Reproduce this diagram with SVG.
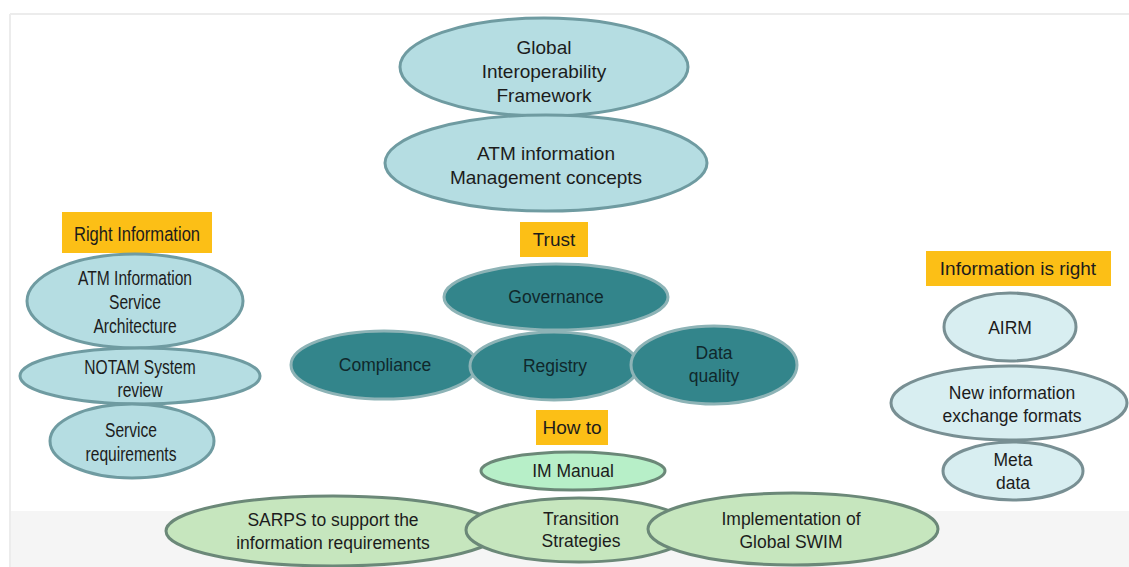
<svg xmlns="http://www.w3.org/2000/svg" width="1129" height="567" viewBox="0 0 1129 567">
<style>
  text { font-family: "Liberation Sans", Arial, sans-serif; fill: #1c1c1c; text-anchor: middle; }
  .n { font-size: 19.5px; }
  .r { font-size: 17.5px; }
  .t { font-size: 19px; }
  .lb { fill: #b5dde2; stroke: #6f9ba1; stroke-width: 3; }
  .lb2 { fill: #d8eef1; stroke: #788f93; stroke-width: 3; }
  .dk { fill: #33858b; stroke: #8db3b6; stroke-width: 3; }
  .dkt { fill: #10282b; }
  .gr { fill: #c6e6be; stroke: #6b8878; stroke-width: 3; }
  .mint { fill: #b7efc8; stroke: #6b8878; stroke-width: 3; }
  .tag { fill: #fcbf16; }
</style>
<rect x="0" y="0" width="1129" height="567" fill="#ffffff"/>
<rect x="11" y="511" width="1118" height="56" fill="#f5f5f5"/>
<line x1="10" y1="14" x2="1129" y2="14" stroke="#ececec" stroke-width="2"/>
<line x1="10" y1="14" x2="10" y2="567" stroke="#ececec" stroke-width="2"/>

<g id="connectors"></g>

<g id="global-framework">
  <ellipse class="lb" cx="544" cy="67" rx="144" ry="49"/>
  <text class="t" x="544" y="54">Global</text>
  <text class="t" x="544" y="78">Interoperability</text>
  <text class="t" x="544" y="102">Framework</text>
</g>
<g id="atm-im-concepts">
  <ellipse class="lb" cx="546" cy="163" rx="161" ry="48"/>
  <text class="t" x="546" y="160">ATM information</text>
  <text class="t" x="546" y="184">Management concepts</text>
</g>

<g id="trust">
  <rect class="tag" x="520" y="222" width="68" height="35"/>
  <text class="t" x="554" y="246">Trust</text>
</g>
<g id="governance">
  <ellipse class="dk" cx="556" cy="297" rx="112" ry="33"/>
  <text class="r dkt" x="556" y="303">Governance</text>
</g>
<g id="compliance">
  <ellipse class="dk" cx="384" cy="365" rx="93" ry="34"/>
  <text class="r dkt" x="385" y="371">Compliance</text>
</g>
<g id="registry">
  <ellipse class="dk" cx="554" cy="366" rx="84" ry="34"/>
  <text class="r dkt" x="555" y="372">Registry</text>
</g>
<g id="data-quality">
  <ellipse class="dk" cx="714" cy="365" rx="83" ry="39"/>
  <text class="r dkt" x="714" y="359">Data</text>
  <text class="r dkt" x="714" y="382">quality</text>
</g>

<g id="how-to">
  <rect class="tag" x="536" y="410" width="72" height="35"/>
  <text class="t" x="572" y="434">How to</text>
</g>
<g id="im-manual">
  <ellipse class="mint" cx="573" cy="471" rx="92" ry="19"/>
  <text class="r" x="573" y="477">IM Manual</text>
</g>
<g id="sarps">
  <ellipse class="gr" cx="333" cy="531" rx="167" ry="35"/>
  <text class="r" x="333" y="526">SARPS to support the</text>
  <text class="r" x="333" y="549">information requirements</text>
</g>
<g id="transition">
  <ellipse class="gr" cx="579" cy="530" rx="113" ry="32"/>
  <text class="r" x="581" y="525">Transition</text>
  <text class="r" x="581" y="547">Strategies</text>
</g>
<g id="implementation">
  <ellipse class="gr" cx="793" cy="529" rx="145" ry="36"/>
  <text class="r" x="791" y="525">Implementation of</text>
  <text class="r" x="791" y="548">Global SWIM</text>
</g>

<g id="right-information">
  <rect class="tag" x="62" y="212" width="150" height="41"/>
  <text class="n" transform="translate(137 241) scale(0.85 1)">Right Information</text>
</g>
<g id="atm-info-service-arch">
  <ellipse class="lb" cx="135" cy="301" rx="108" ry="47"/>
  <text class="n" transform="translate(135 285) scale(0.8 1)">ATM Information</text>
  <text class="n" transform="translate(135 309) scale(0.8 1)">Service</text>
  <text class="n" transform="translate(135 333) scale(0.8 1)">Architecture</text>
</g>
<g id="notam">
  <ellipse class="lb" cx="140" cy="376" rx="120" ry="28"/>
  <text class="n" transform="translate(140 374) scale(0.8 1)">NOTAM System</text>
  <text class="n" transform="translate(140 397) scale(0.8 1)">review</text>
</g>
<g id="service-requirements">
  <ellipse class="lb" cx="132" cy="441" rx="82" ry="37"/>
  <text class="n" transform="translate(131 437) scale(0.8 1)">Service</text>
  <text class="n" transform="translate(131 461) scale(0.8 1)">requirements</text>
</g>

<g id="information-is-right">
  <rect class="tag" x="926" y="251" width="185" height="35"/>
  <text class="t" x="1018" y="275">Information is right</text>
</g>
<g id="airm">
  <ellipse class="lb2" cx="1010" cy="327" rx="66" ry="34"/>
  <text class="r" x="1010" y="334">AIRM</text>
</g>
<g id="new-info-formats">
  <ellipse class="lb2" cx="1009" cy="403" rx="118" ry="37"/>
  <text class="r" x="1012" y="399">New information</text>
  <text class="r" x="1012" y="422">exchange formats</text>
</g>
<g id="meta-data">
  <ellipse class="lb2" cx="1013" cy="471" rx="70" ry="29"/>
  <text class="r" x="1013" y="466">Meta</text>
  <text class="r" x="1013" y="489">data</text>
</g>
</svg>
